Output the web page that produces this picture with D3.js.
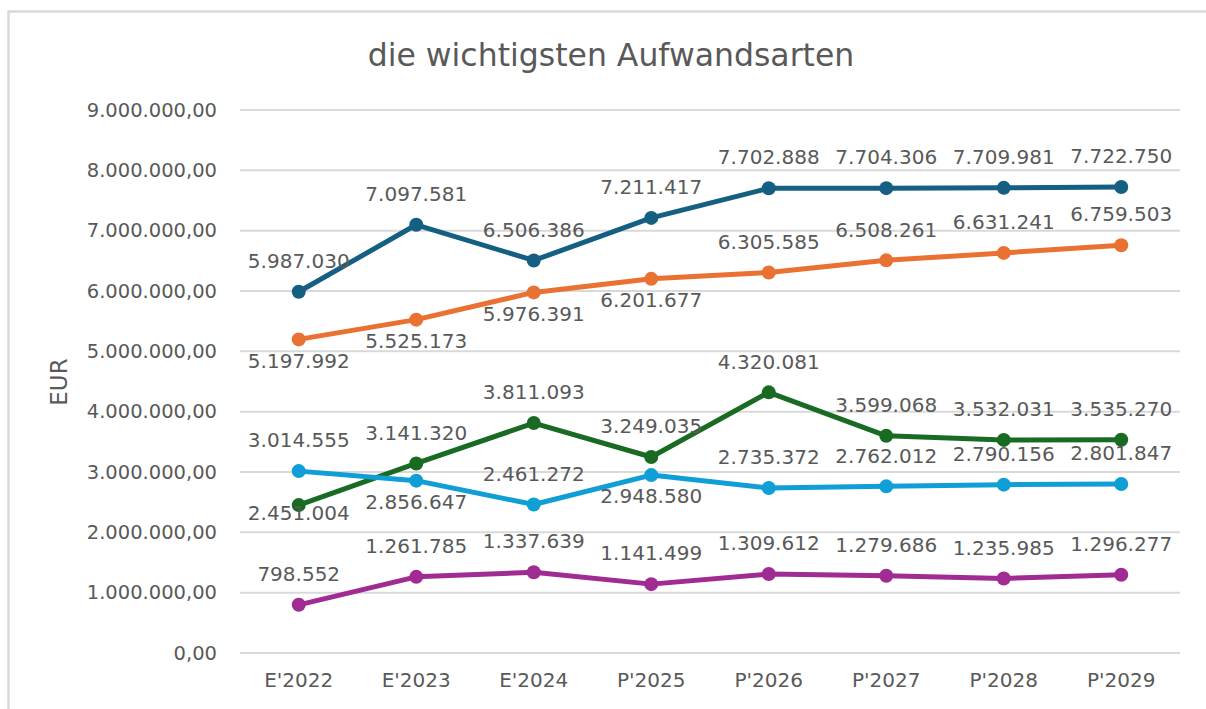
<!DOCTYPE html>
<html><head><meta charset="utf-8">
<script src="https://cdn.jsdelivr.net/npm/d3@7"></script>
<style>html,body{margin:0;padding:0;background:#fff;} svg{display:block;} text{font-family:"DejaVu Sans",sans-serif;fill:#595959;}</style>
</head><body>
<svg id="chart" width="1206" height="709"></svg>
<script>
const categories = ["E'2022","E'2023","E'2024","P'2025","P'2026","P'2027","P'2028","P'2029"];
const seriesA = [5987030,7097581,6506386,7211417,7702888,7704306,7709981,7722750];
const seriesB = [5197992,5525173,5976391,6201677,6305585,6508261,6631241,6759503];
const seriesC = [2451004,3141320,3811093,3249035,4320081,3599068,3532031,3535270];
const seriesD = [3014555,2856647,2461272,2948580,2735372,2762012,2790156,2801847];
const seriesE = [798552,1261785,1337639,1141499,1309612,1279686,1235985,1296277];
const placeA = ["a","a","a","a","a","a","a","a"];
const placeB = ["b","b","b","b","a","a","a","a"];
const placeC = ["o","a","a","a","a","a","a","a"];
const placeD = ["a","b","a","b","a","a","a","a"];
const placeE = ["a","a","a","a","a","a","a","a"];
const yTicks = [0,1000000,2000000,3000000,4000000,5000000,6000000,7000000,8000000,9000000];
const title = "die wichtigsten Aufwandsarten";
const yTitle = "EUR";

const series = [
  {values: seriesA, place: placeA, color: "#156082"},
  {values: seriesB, place: placeB, color: "#E97132"},
  {values: seriesC, place: placeC, color: "#196B24"},
  {values: seriesD, place: placeD, color: "#0F9ED5"},
  {values: seriesE, place: placeE, color: "#A02B93"}
];

const svg = d3.select("#chart");
svg.append("rect").attr("x",0).attr("y",0).attr("width",1206).attr("height",709).attr("fill","#fff");
svg.append("rect").attr("x",8.5).attr("y",11.5).attr("width",1240).attr("height",740)
  .attr("fill","none").attr("stroke","#d9d9d9").attr("stroke-width",2.5);

const x = d3.scaleBand().domain(categories).range([240,1180]);
const y = d3.scaleLinear().domain([0,9000000]).range([653,110]);
const fmtTick = v => d3.format(",.2f")(v).replace(/,/g,"#").replace(/\./g,",").replace(/#/g,".");
const fmtLab = v => d3.format(",d")(v).replace(/,/g,".");

// grid
svg.append("g").selectAll("line").data(yTicks).join("line")
  .attr("x1",240).attr("x2",1180).attr("y1",d=>y(d)).attr("y2",d=>y(d))
  .attr("stroke","#d9d9d9").attr("stroke-width",2);

// y axis
const yAxis = svg.append("g").attr("transform","translate(240,0)")
  .call(d3.axisLeft(y).tickValues(yTicks).tickFormat(fmtTick).tickSize(0).tickPadding(23));
yAxis.select(".domain").remove();
yAxis.selectAll("text").style("font-family","DejaVu Sans").style("font-size","19.5px").attr("fill","#595959");

// x axis
const xAxis = svg.append("g").attr("transform","translate(0,653)")
  .call(d3.axisBottom(x).tickSize(0).tickPadding(20));
xAxis.select(".domain").remove();
xAxis.selectAll("text").style("font-family","DejaVu Sans").style("font-size","20px").attr("fill","#595959");

// title
svg.append("text").attr("x",611).attr("y",66).attr("text-anchor","middle")
  .style("font-size","31.5px").text(title);
svg.append("text").attr("transform","translate(67,382) rotate(-90)").attr("text-anchor","middle")
  .style("font-size","23px").text(yTitle);

const line = d3.line().x((d,i)=>x(categories[i])+x.bandwidth()/2).y(d=>y(d));
series.forEach(s=>{
  const g = svg.append("g");
  g.append("path").datum(s.values).attr("d",line).attr("fill","none")
    .attr("stroke",s.color).attr("stroke-width",5).attr("stroke-linejoin","round");
  g.selectAll("circle").data(s.values).join("circle")
    .attr("cx",(d,i)=>x(categories[i])+x.bandwidth()/2).attr("cy",d=>y(d)).attr("r",7)
    .attr("fill",s.color);
});
series.forEach(s=>{
  svg.append("g").selectAll("text").data(s.values).join("text")
    .attr("x",(d,i)=>x(categories[i])+x.bandwidth()/2)
    .attr("y",(d,i)=>{
      const p = s.place[i];
      return y(d) + (p==="a" ? -31 : p==="b" ? 21 : 8);
    })
    .attr("dy","0.36em")
    .attr("text-anchor","middle").style("font-size","20px").text(d=>fmtLab(d));
});
</script>
</body></html>
